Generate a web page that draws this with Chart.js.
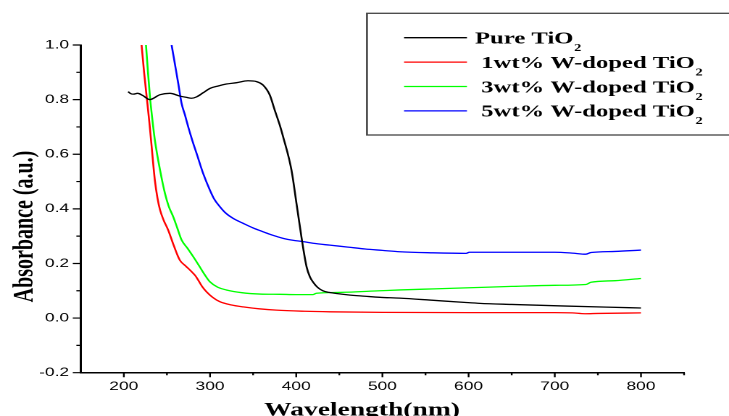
<!DOCTYPE html>
<html>
<head>
<meta charset="utf-8">
<script src="https://cdn.jsdelivr.net/npm/chart.js@4.4.1/dist/chart.umd.min.js"></script>
<style>
  html, body { margin: 0; padding: 0; background: #fff; overflow: hidden; }
  canvas { display: block; }
</style>
</head>
<body>
<canvas id="c" width="503" height="416"></canvas>
<script>
// ---------- data ----------
const seriesLabels = ["Pure TiO₂", " 1wt% W-doped TiO₂", " 3wt% W-doped TiO₂", " 5wt% W-doped TiO₂"];
const seriesColors = ["#000000", "#ff0000", "#00ff00", "#0000ff"];

const wavelengthPure = [205, 208, 211, 216, 222, 230, 242, 253.5, 265, 272.8, 278.6, 284.4, 292, 299.8, 309.5, 319, 330.8, 344, 354, 361.6, 369.3, 375, 380.9, 384.8, 394.5, 400.3, 406, 412, 416, 419.5, 425, 431, 438, 446.6, 460, 480, 497, 520, 555, 597, 613, 650, 713, 760, 800];
const absPure        = [0.829, 0.822, 0.820, 0.823, 0.815, 0.800, 0.818, 0.823, 0.813, 0.808, 0.805, 0.810, 0.825, 0.841, 0.850, 0.857, 0.862, 0.869, 0.866, 0.853, 0.817, 0.762, 0.707, 0.664, 0.542, 0.420, 0.298, 0.188, 0.150, 0.132, 0.112, 0.100, 0.094, 0.090, 0.085, 0.080, 0.076, 0.073, 0.066, 0.057, 0.054, 0.050, 0.044, 0.040, 0.037];

const wavelength1 = [220.6, 223.5, 226.5, 229.5, 232.3, 236, 239, 242, 246, 251.5, 258, 265, 272, 278.6, 283, 286.3, 291, 296, 303, 311.4, 325, 338.4, 357, 377, 410, 439, 500, 600, 700, 720, 735, 750, 800];
const abs1        = [1.0, 0.90, 0.81, 0.72, 0.627, 0.505, 0.440, 0.396, 0.360, 0.322, 0.265, 0.212, 0.190, 0.170, 0.155, 0.139, 0.115, 0.096, 0.076, 0.060, 0.048, 0.041, 0.034, 0.029, 0.025, 0.023, 0.021, 0.020, 0.020, 0.019, 0.016, 0.017, 0.019];

const wavelength3 = [225.7, 228, 230.3, 233, 236, 242, 247.7, 252, 257.3, 262, 267, 274, 280.5, 288, 294, 299.8, 309, 319, 337, 357.8, 381, 400, 419.5, 423.5, 450, 497, 520, 560, 601, 650, 700, 736, 742, 770, 800];
const abs3        = [1.0, 0.90, 0.81, 0.73, 0.652, 0.542, 0.457, 0.410, 0.371, 0.330, 0.286, 0.255, 0.225, 0.188, 0.158, 0.133, 0.113, 0.103, 0.093, 0.088, 0.087, 0.086, 0.086, 0.091, 0.094, 0.100, 0.103, 0.107, 0.111, 0.116, 0.120, 0.123, 0.131, 0.137, 0.145];

const wavelength5 = [255.4, 263.1, 267, 270.9, 274.7, 279.5, 284.4, 292, 299.8, 305, 311.4, 318, 326.8, 338.4, 350, 361.6, 373, 384.8, 396, 408, 419.5, 439, 460, 480, 500, 520, 558.6, 597, 601, 650, 700, 720, 736, 742, 770, 800];
const abs5        = [1.0, 0.86, 0.786, 0.744, 0.70, 0.65, 0.603, 0.53, 0.469, 0.435, 0.408, 0.385, 0.365, 0.347, 0.330, 0.316, 0.303, 0.292, 0.285, 0.280, 0.274, 0.267, 0.260, 0.253, 0.248, 0.243, 0.239, 0.237, 0.241, 0.241, 0.241, 0.238, 0.234, 0.240, 0.244, 0.249];

const xTickValues = [200, 300, 400, 500, 600, 700, 800];
const yTickValues = [-0.2, 0.0, 0.2, 0.4, 0.6, 0.8, 1.0];
const xAxisTitle = "Wavelength(nm)";
const yAxisTitle = "Absorbance (a.u.)";

// ---------- build ----------
const xs = [wavelengthPure, wavelength1, wavelength3, wavelength5];
const ys = [absPure, abs1, abs3, abs5];
const datasets = seriesLabels.map((label, s) => ({
  label,
  data: xs[s].map((x, i) => ({ x, y: ys[s][i] })),
  borderColor: seriesColors[s],
  backgroundColor: seriesColors[s],
  borderWidth: 1.3,
  pointRadius: 0,
  cubicInterpolationMode: 'monotone',
  fill: false
}));

const decor = {
  id: 'decor',
  afterDraw(chart) {
    const ctx = chart.ctx;
    const sx = chart.scales.x, sy = chart.scales.y;
    const ca = chart.chartArea;
    ctx.save();
    // tick marks (major + minor)
    ctx.strokeStyle = '#000';
    ctx.lineWidth = 1.2;
    ctx.beginPath();
    for (let i = 4; i <= 17; i++) {
      const v = i * 50;
      const px = sx.getPixelForValue(v);
      const len = (i % 2 === 0) ? 4.5 : 2.5;
      ctx.moveTo(px, ca.bottom); ctx.lineTo(px, ca.bottom + len);
    }
    for (let i = -2; i <= 10; i++) {
      const py = sy.getPixelForValue(i / 10);
      const len = (i % 2 === 0) ? 5.5 : 3;
      ctx.moveTo(ca.left, py); ctx.lineTo(ca.left - len, py);
    }
    ctx.stroke();

    // legend box
    ctx.strokeStyle = '#444';
    ctx.lineWidth = 1.3;
    ctx.strokeRect(253.2, 13.3, 300, 121.7);
    chart.data.datasets.forEach((ds, i) => {
      const ly = 37.7 + 24.4 * i;
      ctx.strokeStyle = ds.borderColor;
      ctx.lineWidth = 1.3;
      ctx.beginPath(); ctx.moveTo(278.8, ly); ctx.lineTo(322.2, ly); ctx.stroke();
      const base = 43.5 + 24.4 * i;
      const parts = ds.label.split('₂');
      ctx.fillStyle = '#000';
      ctx.textAlign = 'left';
      ctx.textBaseline = 'alphabetic';
      ctx.font = 'bold 17px "Liberation Serif", "Times New Roman", serif';
      ctx.fillText(parts[0], 327.8, base);
      const w = ctx.measureText(parts[0]).width;
      ctx.font = 'bold 10px "Liberation Serif", "Times New Roman", serif';
      ctx.fillText('2', 327.8 + w + 0.5, base + 7.5);
    });

    // axis titles
    ctx.fillStyle = '#000';
    ctx.font = 'bold 19px "Liberation Serif", "Times New Roman", serif';
    ctx.textAlign = 'center';
    ctx.textBaseline = 'alphabetic';
    ctx.fillText(xAxisTitle, 249.8, 415.5);

    ctx.save();
    ctx.translate(22.5, 226.5);
    ctx.rotate(-Math.PI / 2);
    ctx.font = 'bold 20px "Liberation Serif", "Times New Roman", serif';
    ctx.fillText(yAxisTitle, 0, 0);
    ctx.restore();

    ctx.restore();
  }
};

const canvas = document.getElementById('c');
const chart = new Chart(canvas.getContext('2d'), {
  type: 'line',
  data: { datasets },
  options: {
    responsive: false,
    devicePixelRatio: 2,
    animation: false,
    events: [],
    layout: { padding: { left: 0, right: 31, top: 45, bottom: 0 } },
    plugins: { legend: { display: false }, tooltip: { enabled: false }, title: { display: false } },
    scales: {
      x: {
        type: 'linear',
        min: 150, max: 850,
        afterFit: s => { s.height = 43.3; },
        afterBuildTicks: s => { s.ticks = xTickValues.map(v => ({ value: v })); },
        grid: { display: false, drawTicks: false },
        border: { display: true, color: '#000', width: 1.5 },
        ticks: {
          padding: 7,
          maxRotation: 0,
          autoSkip: false,
          color: '#000',
          font: { family: '"Liberation Sans", Arial, sans-serif', size: 12 },
          callback: v => String(v)
        }
      },
      y: {
        type: 'linear',
        min: -0.2, max: 1.0,
        afterFit: s => { s.width = 55.7; },
        afterBuildTicks: s => { s.ticks = yTickValues.map(v => ({ value: v })); },
        grid: { display: false, drawTicks: false },
        border: { display: true, color: '#000', width: 1.5 },
        ticks: {
          padding: 8,
          autoSkip: false,
          color: '#000',
          font: { family: '"Liberation Sans", Arial, sans-serif', size: 12 },
          callback: v => Number(v).toFixed(1)
        }
      }
    }
  },
  plugins: [decor]
});
// the reference figure is stretched horizontally; reproduce that stretch
canvas.style.width = '729px';
canvas.style.height = '416px';
</script>
</body>
</html>
